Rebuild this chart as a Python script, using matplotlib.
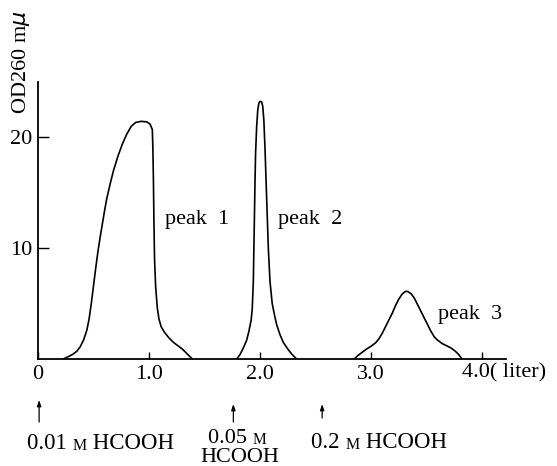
import matplotlib
matplotlib.use("Agg")
import matplotlib.pyplot as plt

plt.rcParams['font.family'] = ['Liberation Serif', 'DejaVu Serif']

# elution volume (liter) and OD260
peak1_x = [0.23, 0.27, 0.31, 0.35, 0.38, 0.41, 0.44, 0.46, 0.48, 0.50, 0.52, 0.54,
           0.56, 0.58, 0.60, 0.62, 0.65, 0.68, 0.72, 0.76, 0.80, 0.84, 0.88, 0.93,
           0.98, 1.01, 1.03, 1.035, 1.04, 1.045, 1.05, 1.06, 1.075, 1.09, 1.11, 1.14,
           1.18, 1.22, 1.26, 1.30, 1.33, 1.36, 1.39]
peak1_y = [0.0, 0.2, 0.4, 0.7, 1.1, 1.7, 2.6, 3.6, 5.0, 6.6, 8.2, 9.7,
           11.0, 12.2, 13.4, 14.5, 15.8, 17.0, 18.3, 19.4, 20.3, 21.0, 21.35, 21.45,
           21.4, 21.2, 20.7, 19.0, 16.0, 12.0, 9.0, 6.5, 4.6, 3.6, 2.9, 2.4,
           1.9, 1.5, 1.2, 0.9, 0.6, 0.3, 0.0]

peak2_x = [1.79, 1.82, 1.85, 1.88, 1.90, 1.92, 1.93, 1.94, 1.945, 1.95, 1.955, 1.96,
           1.97, 1.98, 1.99, 2.00, 2.015, 2.025, 2.035, 2.045, 2.055, 2.065, 2.075, 2.09,
           2.11, 2.13, 2.15, 2.18, 2.21, 2.25, 2.29, 2.33]
peak2_y = [0.0, 0.4, 1.0, 1.7, 2.5, 3.5, 4.5, 7.0, 10.0, 13.0, 16.0, 18.5,
           21.0, 22.5, 23.1, 23.25, 23.2, 22.8, 21.5, 19.0, 16.0, 13.0, 10.0, 7.0,
           5.0, 4.0, 3.1, 2.2, 1.5, 0.9, 0.4, 0.0]

peak3_x = [2.85, 2.88, 2.92, 2.96, 3.00, 3.04, 3.07, 3.10, 3.13, 3.16, 3.19, 3.22,
           3.25, 3.28, 3.31, 3.33, 3.36, 3.39, 3.42, 3.45, 3.48, 3.51, 3.54, 3.57,
           3.60, 3.64, 3.68, 3.72, 3.76, 3.79, 3.82]
peak3_y = [0.0, 0.3, 0.6, 0.9, 1.15, 1.45, 1.8, 2.3, 2.9, 3.5, 4.1, 4.8,
           5.4, 5.85, 6.1, 6.1, 5.9, 5.5, 4.9, 4.3, 3.7, 3.1, 2.5, 2.0,
           1.7, 1.4, 1.2, 1.0, 0.7, 0.4, 0.0]

peak_labels = ['peak  1', 'peak  2', 'peak  3']
peak_label_x = [1.14, 2.16, 3.60]
peak_label_y = [12.6, 12.6, 4.0]

x_ticks = [0, 1, 2, 3, 4]
x_tick_labels = ['0', '1.0', '2.0', '3.0', '']
y_ticks = [10, 20]

# positions where the formic acid concentration was stepped up
step_x = [0.01, 1.76, 2.56]

fig = plt.figure(figsize=(5.57, 4.66), dpi=100)
ax = fig.add_axes([38 / 557, 107 / 466, 468 / 557, 277 / 466])

for xs, ys in [(peak1_x, peak1_y), (peak2_x, peak2_y), (peak3_x, peak3_y)]:
    ax.plot(xs, ys, color='black', lw=1.2, solid_joinstyle='round')

ax.set_xlim(0, 468 / 111)
ax.set_ylim(0, 25)
for s in ['top', 'right']:
    ax.spines[s].set_visible(False)
for s in ['left', 'bottom']:
    ax.spines[s].set_linewidth(1.3)

ax.set_xticks(x_ticks)
ax.set_xticklabels(x_tick_labels, fontsize=16)
ax.set_yticks(y_ticks)
ax.set_yticklabels([str(v) for v in y_ticks], fontsize=16)
ax.tick_params(axis='x', direction='in', length=5, width=1, pad=4)
ax.tick_params(axis='y', direction='in', length=8, width=1, pad=4)

ax.text(3.82, -1.25, '4.0( liter)', fontsize=16, ha='left', va='center', clip_on=False)

for lab, lx, ly in zip(peak_labels, peak_label_x, peak_label_y):
    ax.text(lx, ly, lab, fontsize=16, ha='left', va='center')

# y-axis title
fig.text(21 / 557, 1 - 62 / 466, r'OD260 m$\mu$', rotation=90, fontsize=16,
         ha='center', va='center')


def ypx(p):
    # picture row -> data units, for the notes under the axis
    return (359 - p) / 11.08


arrow_top = [400, 404, 404]
arrow_bot = [422, 422, 418]
for sx, t, b in zip(step_x, arrow_top, arrow_bot):
    ax.annotate('', xy=(sx, ypx(t)), xytext=(sx, ypx(b)), annotation_clip=False,
                arrowprops=dict(arrowstyle='-|>,head_length=0.35,head_width=0.12',
                                color='black', lw=0.9, shrinkA=0, shrinkB=0))


def step_label(x, y, first, last, size=16.5):
    t1 = ax.text(x, y, first, fontsize=size, ha='left', va='bottom', clip_on=False)
    t2 = ax.annotate('M', xy=(1, 0), xycoords=t1, fontsize=size * 0.7, ha='left',
                     va='bottom', annotation_clip=False)
    if last:
        ax.annotate(last, xy=(1, 0), xycoords=t2, fontsize=size, ha='left',
                    va='bottom', annotation_clip=False)


step_label((27 - 38) / 111, ypx(454), '0.01 ', ' HCOOH')
step_label((208 - 38) / 111, ypx(448), '0.05 ', '', size=16)
ax.text((240 - 38) / 111, ypx(458), 'HCOOH', fontsize=16, ha='center', va='center',
        clip_on=False)
step_label((311 - 38) / 111, ypx(453), '0.2 ', ' HCOOH')

fig.savefig('out.png', dpi=100)
